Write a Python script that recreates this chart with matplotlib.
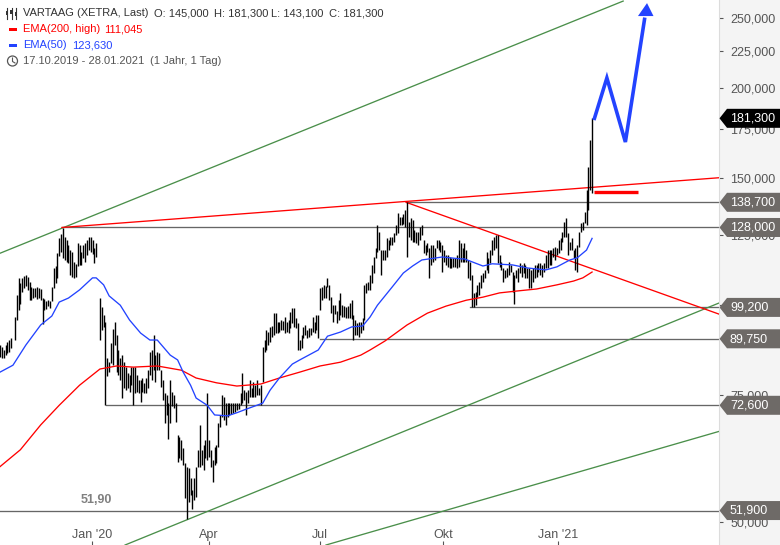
import matplotlib
matplotlib.use("Agg")
import matplotlib.pyplot as plt
from matplotlib.patches import Polygon, Circle, Rectangle
from matplotlib.ticker import FixedLocator, NullLocator

plt.rcParams['font.family'] = ['Liberation Sans', 'DejaVu Sans']

# OHLC bars: trading-day number, high, low
bar_rows = """
0 88.0 84.7;1 87.4 84.4;2 86.6 84.4;3 88.0 85.2;4 88.8 85.8;5 89.4 86.1;6 90.0 87.2;8 96.2 89.4;9 103.2 95.3;10 109.0 98.4;
11 107.3 100.2;12 109.0 104.2;13 109.7 105.6;14 110.0 106.3;15 109.3 104.9;16 107.6 101.5;17 105.9 101.5;18 105.6 102.2;19 105.6 102.5;20 105.9 101.8;
21 105.6 102.2;22 105.2 101.5;23 102.2 94.1;24 101.8 98.4;25 101.2 98.7;26 101.5 99.6;27 101.2 99.0;28 105.9 101.2;29 112.5 105.6;30 113.2 107.3;
31 118.0 109.0;32 123.8 116.9;33 125.4 118.4;34 127.8 116.2;35 124.2 115.4;36 123.0 114.7;37 121.0 114.3;38 119.1 110.0;39 118.4 109.3;40 114.7 109.0;
41 114.0 109.3;42 121.8 113.2;43 121.0 113.6;44 118.4 113.6;45 121.0 116.2;46 121.8 114.7;47 123.0 117.2;48 124.2 119.1;49 124.2 118.4;50 123.0 117.6;
51 119.9 114.3;52 121.8 116.5;54 102.2 89.4;55 99.3 92.3;56 96.8 93.2;57 94.7 72.6;58 84.4 79.7;59 83.3 80.7;60 88.6 83.0;61 92.6 82.5;
62 94.7 88.0;63 90.8 80.7;64 86.6 80.0;65 84.4 78.7;66 85.2 74.3;67 83.3 76.7;68 82.0 76.2;69 80.4 76.7;70 80.0 75.7;71 82.0 77.4;
72 82.0 72.6;73 82.0 75.5;74 80.0 75.7;75 78.7 75.5;76 78.7 73.3;77 79.2 75.7;78 78.0 75.5;79 79.2 75.5;80 81.2 76.7;81 86.0 80.0;
82 86.6 78.7;83 90.8 81.2;84 85.2 78.2;85 86.0 81.2;86 85.8 81.2;87 81.2 77.0;88 78.7 73.8;89 75.5 68.7;90 75.0 70.4;91 73.1 65.2;
92 78.7 68.7;93 75.7 72.4;94 75.0 72.0;95 73.1 68.9;96 66.0 60.6;97 65.6 61.4;98 65.0 61.0;99 63.4 60.0;100 60.4 54.0;101 59.7 50.6;
102 59.5 53.4;103 57.6 54.6;104 55.4 52.2;105 57.6 53.7;106 59.7 54.2;107 63.0 59.7;108 68.2 59.7;109 63.0 60.0;110 64.0 59.1;111 65.0 61.4;
112 75.5 61.0;113 65.0 61.6;114 63.0 59.7;115 61.0 56.8;116 63.6 60.0;117 64.0 60.4;118 68.7 63.6;119 70.4 67.8;120 75.0 69.9;121 74.5 69.3;
122 73.1 68.2;123 73.1 69.9;124 73.1 70.4;125 73.1 70.6;126 73.1 70.8;127 73.1 71.0;128 73.1 71.5;129 73.1 71.7;130 75.5 72.6;131 80.4 73.1;
132 76.2 73.8;133 75.7 70.4;134 76.2 73.1;135 78.7 74.5;136 76.7 74.5;137 78.2 74.5;138 77.4 74.5;139 78.7 75.0;140 76.7 75.0;141 77.4 72.6;
142 87.4 78.2;143 89.4 86.1;144 92.3 86.6;145 91.7 88.0;146 93.2 88.8;147 93.5 90.3;148 97.4 90.8;149 97.4 91.4;150 94.7 91.4;151 94.7 91.7;
152 95.3 92.3;153 95.0 92.3;154 96.2 91.4;155 94.7 91.7;156 95.3 91.4;157 97.7 92.9;158 99.0 94.4;159 99.0 93.2;160 95.9 92.9;161 94.4 86.6;
162 89.4 86.6;163 90.8 87.2;164 93.2 90.0;165 93.8 90.8;166 92.3 90.0;167 92.9 90.3;168 92.9 90.8;169 96.2 91.7;170 94.7 91.4;171 96.8 92.3;
172 96.8 90.0;173 105.6 98.4;174 105.9 101.5;175 106.6 102.2;176 106.3 102.2;177 109.0 105.9;178 106.6 101.5;179 102.5 97.4;180 99.9 94.7;181 99.9 97.1;
182 98.1 94.4;183 101.5 95.3;184 103.9 96.8;185 99.9 96.2;186 99.6 96.2;187 99.3 95.9;188 99.6 95.9;189 100.5 95.9;190 101.5 95.6;191 96.8 89.4;
192 95.3 90.8;193 94.4 90.8;194 94.7 90.3;195 94.7 91.4;196 95.9 92.3;197 106.6 95.3;198 107.3 103.9;199 107.6 104.9;200 110.0 104.9;201 113.6 107.3;
202 116.5 110.7;203 120.0 116.2;204 129.0 118.4;205 126.2 119.1;206 119.1 110.0;207 119.1 115.4;208 119.1 115.4;209 123.8 116.5;210 123.0 119.1;211 124.2 121.0;
212 124.2 121.0;213 125.7 122.2;214 129.0 125.0;215 134.0 125.8;216 132.3 129.0;217 132.3 129.0;218 133.6 129.4;219 135.3 128.0;220 138.7 116.5;221 130.3 124.2;
222 131.9 123.0;223 131.1 122.2;224 127.0 122.2;225 126.2 121.8;226 126.2 121.0;227 128.1 123.0;228 129.0 125.0;229 123.0 118.0;230 121.0 117.2;231 121.8 118.4;
232 119.9 109.0;233 121.0 113.6;234 121.0 114.7;235 120.0 115.4;236 123.0 119.9;237 123.0 119.1;238 122.2 118.4;239 121.0 111.1;240 119.1 114.7;241 117.2 113.6;
242 117.2 112.9;243 116.5 112.5;244 116.2 112.5;245 116.2 112.9;246 116.2 112.9;247 117.2 112.5;248 123.0 112.9;249 121.8 114.7;250 119.9 114.7;251 121.8 114.7;
252 119.1 114.7;253 115.4 109.0;254 114.7 108.3;255 110.0 99.2;256 103.9 99.3;257 104.2 99.9;258 106.6 102.5;259 107.6 103.2;260 110.0 105.6;261 110.7 107.6;
262 111.8 109.0;263 118.4 111.8;264 116.2 110.7;265 119.1 114.3;266 123.0 117.2;267 124.2 119.1;268 125.0 119.9;269 125.0 114.3;270 117.2 112.9;271 114.7 111.8;
272 112.5 107.6;273 111.8 109.0;274 112.5 109.3;275 114.7 110.0;276 113.6 111.1;277 111.1 104.2;278 110.0 100.2;279 111.8 109.0;280 112.5 107.6;281 114.3 110.7;
282 113.6 109.3;283 114.3 110.7;284 113.6 109.0;285 112.5 109.0;286 112.5 105.6;287 111.8 105.6;288 112.5 107.6;289 113.6 109.0;290 113.6 109.3;291 114.3 111.1;
292 114.3 110.0;293 113.6 109.3;294 114.3 111.1;295 117.2 112.5;296 119.1 112.5;297 119.1 113.6;298 119.1 113.6;299 119.9 116.5;300 120.2 115.4;301 119.9 117.2;
302 123.0 118.0;303 123.8 119.1;304 126.2 122.2;305 130.3 124.2;306 131.9 124.2;307 125.8 117.2;308 122.2 119.1;309 123.8 119.1;310 119.1 116.2;311 119.9 111.8;
312 121.0 111.1;313 126.2 120.2;314 130.0 126.2;315 130.3 127.0;316 134.4 130.0;317 144.2 129.0;318 155.0 135.3;319 169.2 144.2;320 181.3 143.1
"""
rows = [r.split() for r in bar_rows.replace("\n", "").split(";") if r.strip()]
bar_day = [int(r[0]) for r in rows]
bar_high = [float(r[1]) for r in rows]
bar_low = [float(r[2]) for r in rows]

ema50_day = [0,7,14,22,28,32,37,43,50,52,56,59,65,70,76,81,85,92,96,99,103,106,112,116,123,128,133,142,146,151,158,162,172,177,184,190,196,200,204,212,218,223,228,239,249,251,261,266,277,285,295,301,308,312,317,320]
ema50_val = [80.7,82.5,88.0,93.8,96.5,100.9,102.2,104.9,109.0,109.0,106.6,102.9,99.9,95.3,91.4,89.4,89.4,85.2,83.9,80.7,77.4,74.3,72.6,70.4,70.2,70.9,71.7,73.1,76.2,79.2,82.8,83.9,86.6,90.5,91.7,93.2,93.5,96.2,99.9,105.9,110.7,113.2,115.4,116.5,115.8,115.8,113.2,114.0,113.6,112.5,111.8,112.9,115.4,116.2,119.1,123.63]

ema200_day = [0,11,22,32,43,54,63,72,85,98,106,117,128,141,151,162,173,184,195,200,208,220,231,241,252,261,270,279,290,301,310,315,320]
ema200_val = [59.7,63.0,68.2,72.6,77.4,81.5,82.3,82.0,82.3,81.2,79.2,78.0,77.2,77.7,79.2,80.7,82.3,83.3,85.2,86.6,89.1,93.8,97.4,99.6,101.5,102.5,103.9,104.5,105.2,106.6,107.9,109.0,111.045]

level_values = [138.7, 128.0, 99.2, 89.75, 72.6, 51.9]
level_labels = ['138,700', '128,000', '99,200', '89,750', '72,600', '51,900']
level_start = [219.5, 33.5, 254, 173, 57.3, 0]

green_lines = [((0, 117.9), (336.8, 263.5)), ((67.6, 46.5), (388.6, 100.6)), ((176.2, 46.5), (388.6, 66.8))]
red_lines = [((33.5, 128.0), (388.6, 150.0)), ((219.5, 138.7), (388.6, 97.1))]
target_day = [321, 345]
target_val = [143.5, 143.5]
arrow_day = [321, 328, 338, 348.5]
arrow_val = [180.3, 206.2, 168.1, 250.0]

y_ticks = [250, 225, 200, 175, 150, 125, 100, 75, 50]
y_labels = ['250,000', '225,000', '200,000', '175,000', '150,000', '125,000', '100,000', '75,000', '50,000']
x_tick_days = [49.7, 113, 173, 239.5, 301.6]
x_tick_labels = ["Jan '20", 'Apr', 'Jul', 'Okt', "Jan '21"]
last_price = 181.3

W, H = 780, 545
RED = '#ff0000'; BLUE = '#2343ff'; GREEN = '#4a8f4a'; GRAY = '#666666'; TAG = '#6e6a67'; TXT = '#555555'

fig = plt.figure(figsize=(W / 100, H / 100), dpi=100, facecolor='white')
ax = fig.add_axes([0, 0, 719 / W, 1])
ax.set_yscale('log')
ax.set_xlim(0, 388.6)
ax.set_ylim(46.5, 264.4)
ax.set_facecolor('white')
for s in ('top', 'bottom', 'left'):
    ax.spines[s].set_visible(False)
ax.spines['right'].set_color('#dcdcdc')
ax.yaxis.tick_right()
ax.yaxis.set_major_locator(FixedLocator(y_ticks))
ax.yaxis.set_minor_locator(NullLocator())
ax.set_yticks(y_ticks)
ax.set_yticklabels(y_labels)
ax.tick_params(axis='y', which='major', direction='out', length=3, width=0.8, color='#555555',
               pad=5, labelsize=9, labelcolor=TXT)
ax.set_xticks(x_tick_days)
ax.set_xticklabels(x_tick_labels)
ax.tick_params(axis='x', direction='in', length=3, width=0.8, color='#555555', pad=-11.5, labelsize=9, labelcolor=TXT)

for v, s in zip(level_values, level_start):
    ax.plot([s, 388.6], [v, v], color=GRAY, lw=0.95, zorder=2)
for (a, b) in green_lines:
    ax.plot([a[0], b[0]], [a[1], b[1]], color=GREEN, lw=0.95, zorder=2)
for (a, b) in red_lines:
    ax.plot([a[0], b[0]], [a[1], b[1]], color=RED, lw=0.95, zorder=3)

ax.vlines(bar_day, bar_low, bar_high, color='black', lw=1.0, zorder=4)
ax.plot(ema200_day, ema200_val, color=RED, lw=0.95, zorder=5)
ax.plot(ema50_day, ema50_val, color=BLUE, lw=0.95, zorder=5)

ax.plot(target_day, target_val, color=RED, lw=2.4, solid_capstyle='butt', zorder=6)
ax.plot(arrow_day, arrow_val, color=BLUE, lw=2.6, solid_joinstyle='miter', solid_capstyle='butt', zorder=6)
ax.add_patch(Polygon([(349.7, 261.8), (344.8, 251.2), (353.2, 251.2)], closed=True, color=BLUE, lw=0, zorder=6))

ax.text(52.2, 53.7, '51,90', color='#808080', fontsize=9, fontweight='bold', ha='center', va='center', zorder=6)

# overlay in pixel coordinates for the right panel, tags and legend
ov = fig.add_axes([0, 0, 1, 1], facecolor='none')
ov.set_xlim(0, W); ov.set_ylim(H, 0); ov.axis('off')
bg = fig.add_axes([719 / W, 0, 61 / W, 1], facecolor='#f4f4f4', zorder=-1)
bg.set_xticks([]); bg.set_yticks([])
for s in bg.spines.values():
    s.set_visible(False)

def tag(price, label, color):
    y = H - ax.transData.transform((0, price))[1]
    ov.add_patch(Polygon([(719.5, y), (727, y - 9.5), (780, y - 9.5), (780, y + 9.5), (727, y + 9.5)],
                         closed=True, facecolor=color, edgecolor='none', zorder=8))
    ov.text(730, y + 0.3, label, color='white', fontsize=9, va='center', ha='left', zorder=9)

for v, lab in zip(level_values, level_labels):
    tag(v, lab, TAG)
tag(last_price, '181,300', 'black')

# legend
DARK = '#333333'
fs = 8
for x, s in [(23, 'VARTAAG (XETRA, Last)'), (154, 'O: 145,000'), (214, 'H: 181,300'), (271, 'L: 143,100'), (329, 'C: 181,300')]:
    ov.text(x, 13, s, color=DARK, fontsize=fs, va='center', ha='left')
ov.text(23, 29, 'EMA(200, high)', color=RED, fontsize=fs, va='center')
ov.text(104, 29, '111,045', color=RED, fontsize=fs, va='center')
ov.text(23, 45, 'EMA(50)', color=BLUE, fontsize=fs, va='center')
ov.text(72, 45, '123,630', color=BLUE, fontsize=fs, va='center')
ov.text(23, 61, '17.10.2019 - 28.01.2021', color=TXT, fontsize=fs, va='center')
ov.text(150, 61, '(1 Jahr, 1 Tag)', color=TXT, fontsize=fs, va='center')
ov.add_patch(Rectangle((9, 28), 8, 3, color=RED, lw=0))
ov.add_patch(Rectangle((9, 44), 8, 3, color=BLUE, lw=0))
ov.add_patch(Circle((12.5, 61), 5, facecolor='none', edgecolor=TXT, lw=0.9))
ov.plot([12.5, 12.5, 15], [58, 61.5, 63], color=TXT, lw=0.8)
for x, t, b, o0, o1 in [(7, 8, 19, 11, 15), (11.5, 8, 19, 10, 14), (16, 8, 19, 12, 16)]:
    ov.plot([x, x], [t, b], color=DARK, lw=0.8)
    ov.add_patch(Rectangle((x - 1.2, o0), 2.4, o1 - o0, color=DARK, lw=0))

fig.savefig('out.png', dpi=100)
